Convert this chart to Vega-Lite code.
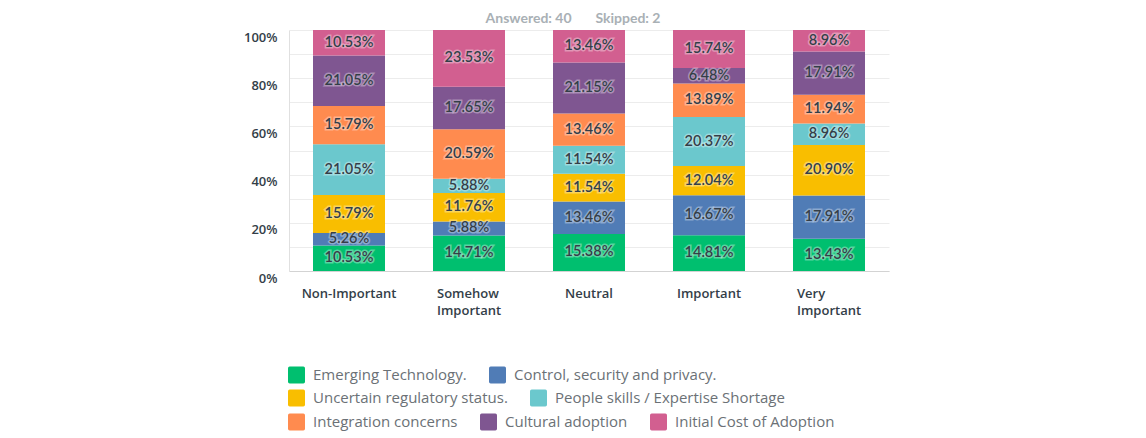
{
  "$schema": "https://vega.github.io/schema/vega-lite/v6.json",
  "width": 600,
  "height": 241,
  "autosize": {"type": "none"},
  "padding": {"left": 289, "top": 30, "right": 257, "bottom": 167},
  "background": "#ffffff",
  "config": {
    "view": {"stroke": null},
    "font": "Lato",
    "axisY": {
      "labelFont": "Open Sans",
      "labelFontSize": 13,
      "labelFontWeight": 600,
      "labelColor": "#333e48",
      "labelPadding": 12,
      "labelOffset": 7,
      "ticks": false,
      "tickSize": 0,
      "domain": true,
      "domainColor": "#e0e0e0",
      "grid": true,
      "gridColor": "#ececec",
      "gridWidth": 1
    },
    "legend": {
      "orient": "none",
      "direction": "horizontal",
      "columns": 3,
      "gridAlign": "none",
      "padding": 0,
      "symbolType": "M-0.8,-1L0.8,-1Q1,-1 1,-0.8L1,0.8Q1,1 0.8,1L-0.8,1Q-1,1 -1,0.8L-1,-0.8Q-1,-1 -0.8,-1Z",
      "symbolSize": 289,
      "symbolStrokeWidth": 0,
      "symbolOpacity": 1,
      "labelFont": "Open Sans",
      "labelFontSize": 15,
      "labelColor": "#6b7176",
      "labelOffset": 8,
      "columnPadding": 22,
      "labelLimit": 400
    }
  },
  "title": {
    "text": "Answered: 40\u00a0\u00a0\u00a0\u00a0\u00a0\u00a0\u00a0Skipped: 2",
    "font": "Lato",
    "fontSize": 14,
    "fontWeight": "bold",
    "color": "#a9b0b5",
    "anchor": "middle",
    "dx": -16,
    "offset": 4
  },
  "data": {
    "values": [
      {"x": "Non-Important", "c": "Emerging Technology.", "k": 0, "v": 0.1053},
      {"x": "Non-Important", "c": "Control, security and privacy.", "k": 1, "v": 0.0526},
      {"x": "Non-Important", "c": "Uncertain regulatory status.", "k": 2, "v": 0.1579},
      {"x": "Non-Important", "c": "People skills / Expertise Shortage", "k": 3, "v": 0.2105},
      {"x": "Non-Important", "c": "Integration concerns", "k": 4, "v": 0.1579},
      {"x": "Non-Important", "c": "Cultural adoption", "k": 5, "v": 0.2105},
      {"x": "Non-Important", "c": "Initial Cost of Adoption", "k": 6, "v": 0.1053},
      {"x": "Somehow Important", "c": "Emerging Technology.", "k": 0, "v": 0.1471},
      {"x": "Somehow Important", "c": "Control, security and privacy.", "k": 1, "v": 0.0588},
      {"x": "Somehow Important", "c": "Uncertain regulatory status.", "k": 2, "v": 0.1176},
      {"x": "Somehow Important", "c": "People skills / Expertise Shortage", "k": 3, "v": 0.0588},
      {"x": "Somehow Important", "c": "Integration concerns", "k": 4, "v": 0.2059},
      {"x": "Somehow Important", "c": "Cultural adoption", "k": 5, "v": 0.1765},
      {"x": "Somehow Important", "c": "Initial Cost of Adoption", "k": 6, "v": 0.2353},
      {"x": "Neutral", "c": "Emerging Technology.", "k": 0, "v": 0.1538},
      {"x": "Neutral", "c": "Control, security and privacy.", "k": 1, "v": 0.1346},
      {"x": "Neutral", "c": "Uncertain regulatory status.", "k": 2, "v": 0.1154},
      {"x": "Neutral", "c": "People skills / Expertise Shortage", "k": 3, "v": 0.1154},
      {"x": "Neutral", "c": "Integration concerns", "k": 4, "v": 0.1346},
      {"x": "Neutral", "c": "Cultural adoption", "k": 5, "v": 0.2115},
      {"x": "Neutral", "c": "Initial Cost of Adoption", "k": 6, "v": 0.1346},
      {"x": "Important", "c": "Emerging Technology.", "k": 0, "v": 0.1481},
      {"x": "Important", "c": "Control, security and privacy.", "k": 1, "v": 0.1667},
      {"x": "Important", "c": "Uncertain regulatory status.", "k": 2, "v": 0.1204},
      {"x": "Important", "c": "People skills / Expertise Shortage", "k": 3, "v": 0.2037},
      {"x": "Important", "c": "Integration concerns", "k": 4, "v": 0.1389},
      {"x": "Important", "c": "Cultural adoption", "k": 5, "v": 0.0648},
      {"x": "Important", "c": "Initial Cost of Adoption", "k": 6, "v": 0.1574},
      {"x": "Very Important", "c": "Emerging Technology.", "k": 0, "v": 0.1343},
      {"x": "Very Important", "c": "Control, security and privacy.", "k": 1, "v": 0.1791},
      {"x": "Very Important", "c": "Uncertain regulatory status.", "k": 2, "v": 0.2090},
      {"x": "Very Important", "c": "People skills / Expertise Shortage", "k": 3, "v": 0.0896},
      {"x": "Very Important", "c": "Integration concerns", "k": 4, "v": 0.1194},
      {"x": "Very Important", "c": "Cultural adoption", "k": 5, "v": 0.1791},
      {"x": "Very Important", "c": "Initial Cost of Adoption", "k": 6, "v": 0.0896}
    ]
  },
  "transform": [
    {"stack": "v", "groupby": ["x"], "sort": [{"field": "k", "order": "ascending"}], "as": ["y0", "y1"]},
    {"calculate": "(datum.y0 + datum.y1) / 2", "as": "ym"}
  ],
  "encoding": {
    "x": {
      "field": "x",
      "type": "nominal",
      "sort": ["Non-Important", "Somehow Important", "Neutral", "Important", "Very Important"],
      "scale": {"paddingInner": 0.4, "paddingOuter": 0.2},
      "axis": {
        "title": null,
        "labelAngle": 0,
        "labelExpr": "split(datum.value, ' ')",
        "labelFont": "Open Sans",
        "labelFontSize": 13,
        "labelFontWeight": 600,
        "labelColor": "#333e48",
        "labelLineHeight": 17,
        "labelPadding": 16,
        "labelAlign": {"condition": {"test": "indexof(datum.value, ' ') >= 0", "value": "left"}, "value": "center"},
        "labelOffset": {"condition": {"test": "indexof(datum.value, ' ') >= 0", "value": -32}, "value": 0},
        "ticks": false,
        "tickSize": 0,
        "domainColor": "#d3d3d3",
        "domainWidth": 1,
        "grid": false
      }
    }
  },
  "layer": [
    {
      "mark": {"type": "bar"},
      "encoding": {
        "y": {
          "field": "y0",
          "type": "quantitative",
          "scale": {"domain": [0, 1], "nice": false, "clamp": true},
          "axis": {
            "title": null,
            "values": [0, 0.1, 0.2, 0.3, 0.4, 0.5, 0.6, 0.7, 0.8, 0.9, 1],
            "format": ".0%",
            "labelExpr": "round(datum.value * 100) % 20 == 0 ? datum.label : ''"
          }
        },
        "y2": {"field": "y1"},
        "color": {
          "field": "c",
          "type": "nominal",
          "scale": {
            "domain": ["Emerging Technology.", "Control, security and privacy.", "Uncertain regulatory status.", "People skills / Expertise Shortage", "Integration concerns", "Cultural adoption", "Initial Cost of Adoption"],
            "range": ["#00bf6f", "#507cb6", "#f9be00", "#6bc8cd", "#ff8b4f", "#7f5691", "#d25f90"]
          },
          "legend": {
            "values": ["Emerging Technology.", "Control, security and privacy."],
            "legendX": -1, "legendY": 336.5, "title": null
          }
        }
      }
    },
    {
      "mark": {"type": "bar", "opacity": 0},
      "encoding": {
        "y": {
          "field": "y0",
          "type": "quantitative",
          "axis": {
            "title": null,
            "values": [0, 0.1, 0.2, 0.3, 0.4, 0.5, 0.6, 0.7, 0.8, 0.9, 1],
            "format": ".0%",
            "labelExpr": "round(datum.value * 100) % 20 == 0 ? datum.label : ''"
          }
        },
        "y2": {"field": "y1"},
        "color": {
          "field": "c",
          "type": "nominal",
          "scale": {
            "domain": ["Emerging Technology.", "Control, security and privacy.", "Uncertain regulatory status.", "People skills / Expertise Shortage", "Integration concerns", "Cultural adoption", "Initial Cost of Adoption"],
            "range": ["#00bf6f", "#507cb6", "#f9be00", "#6bc8cd", "#ff8b4f", "#7f5691", "#d25f90"]
          },
          "legend": {
            "values": ["Uncertain regulatory status.", "People skills / Expertise Shortage"],
            "legendX": -1, "legendY": 359.5, "title": null
          }
        }
      }
    },
    {
      "mark": {"type": "bar", "opacity": 0},
      "encoding": {
        "y": {
          "field": "y0",
          "type": "quantitative",
          "axis": {
            "title": null,
            "values": [0, 0.1, 0.2, 0.3, 0.4, 0.5, 0.6, 0.7, 0.8, 0.9, 1],
            "format": ".0%",
            "labelExpr": "round(datum.value * 100) % 20 == 0 ? datum.label : ''"
          }
        },
        "y2": {"field": "y1"},
        "color": {
          "field": "c",
          "type": "nominal",
          "scale": {
            "domain": ["Emerging Technology.", "Control, security and privacy.", "Uncertain regulatory status.", "People skills / Expertise Shortage", "Integration concerns", "Cultural adoption", "Initial Cost of Adoption"],
            "range": ["#00bf6f", "#507cb6", "#f9be00", "#6bc8cd", "#ff8b4f", "#7f5691", "#d25f90"]
          },
          "legend": {
            "values": ["Integration concerns", "Cultural adoption", "Initial Cost of Adoption"],
            "legendX": -1, "legendY": 383.5, "title": null
          }
        }
      }
    },
    {
      "mark": {"type": "text", "font": "Lato", "fontSize": 14.5, "fontWeight": 600, "baseline": "middle", "align": "center", "fill": "#ffffff", "stroke": "#ffffff", "strokeWidth": 3, "strokeOpacity": 0.35, "fillOpacity": 0.35},
      "encoding": {
        "y": {
          "field": "ym",
          "type": "quantitative",
          "axis": {
            "title": null,
            "values": [0, 0.1, 0.2, 0.3, 0.4, 0.5, 0.6, 0.7, 0.8, 0.9, 1],
            "format": ".0%",
            "labelExpr": "round(datum.value * 100) % 20 == 0 ? datum.label : ''"
          }
        },
        "text": {"field": "v", "type": "quantitative", "format": ".2%"}
      }
    },
    {
      "mark": {"type": "text", "font": "Lato", "fontSize": 14.5, "fontWeight": 600, "baseline": "middle", "align": "center", "fill": "#333e48"},
      "encoding": {
        "y": {
          "field": "ym",
          "type": "quantitative",
          "axis": {
            "title": null,
            "values": [0, 0.1, 0.2, 0.3, 0.4, 0.5, 0.6, 0.7, 0.8, 0.9, 1],
            "format": ".0%",
            "labelExpr": "round(datum.value * 100) % 20 == 0 ? datum.label : ''"
          }
        },
        "text": {"field": "v", "type": "quantitative", "format": ".2%"}
      }
    }
  ],
  "resolve": {"scale": {"color": "independent"}, "legend": {"color": "independent"}}
}
